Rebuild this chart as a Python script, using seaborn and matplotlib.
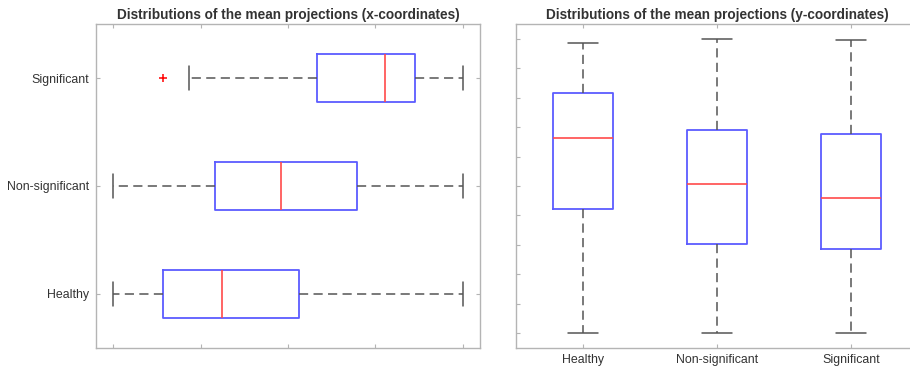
import numpy as np
import pandas as pd
import matplotlib
matplotlib.use("Agg")
import matplotlib.pyplot as plt
import seaborn as sns

# Groups and five-number summaries of the mean projections (normalised to [0, 1])
groups = ["Healthy", "Non-significant", "Significant"]

x_low = [0.0, 0.0, 0.216]
x_q1 = [0.141, 0.290, 0.582]
x_median = [0.312, 0.479, 0.777]
x_q3 = [0.531, 0.698, 0.863]
x_high = [1.0, 1.0, 1.0]
x_fliers = [[], [], [0.141]]

y_low = [0.0, 0.0, 0.0]
y_q1 = [0.422, 0.304, 0.286]
y_median = [0.663, 0.506, 0.460]
y_q3 = [0.815, 0.691, 0.675]
y_high = [0.987, 1.0, 0.996]
y_fliers = [[], [], []]

x_ticks = [0.0, 0.25, 0.5, 0.75, 1.0]
y_ticks = [0.0, 0.1, 0.2, 0.3, 0.4, 0.5, 0.6, 0.7, 0.8, 0.9, 1.0]


def summary_sample(lo, q1, med, q3, hi, fliers):
    """Nine values whose quartiles, whisker ends and fliers equal the summary."""
    first = fliers[0] if fliers else lo
    return [first, lo, q1, q1, med, med, q3, q3, hi]


def long_frame(lo, q1, med, q3, hi, fliers):
    rows = []
    for i, g in enumerate(groups):
        for v in summary_sample(lo[i], q1[i], med[i], q3[i], hi[i], fliers[i]):
            rows.append({"group": g, "value": v})
    return pd.DataFrame(rows)


df_x = long_frame(x_low, x_q1, x_median, x_q3, x_high, x_fliers)
df_y = long_frame(y_low, y_q1, y_median, y_q3, y_high, y_fliers)

sns.set_theme(style="white")
plt.rcParams["font.family"] = ["Liberation Sans", "DejaVu Sans"]

BOX = "#5c5cff"
MEDIAN = "#ff4a4a"
WHISK = "#555555"
SPINE = "#b4b4b4"
TEXT = "#333333"

box_kws = dict(
    width=0.45,
    fill=False,
    whis=1.5,
    linewidth=1.2,
    color=BOX,
    boxprops=dict(color=BOX, linewidth=1.3),
    medianprops=dict(color=MEDIAN, linewidth=1.2),
    whiskerprops=dict(color=WHISK, linewidth=1.1, linestyle=(0, (6, 3.5))),
    capprops=dict(color=WHISK, linewidth=1.1),
    flierprops=dict(marker="+", markeredgecolor="red", markerfacecolor="red",
                    markersize=6, markeredgewidth=1.1, linestyle="none"),
)

fig = plt.figure(figsize=(9.10, 3.72), dpi=100)
ax1 = fig.add_axes([96 / 910, 24.3 / 372, 384 / 910, 323.5 / 372])
ax2 = fig.add_axes([516 / 910, 24.3 / 372, 402 / 910, 323.5 / 372])

order_h = ["Significant", "Non-significant", "Healthy"]
sns.boxplot(data=df_x, x="value", y="group", order=order_h, orient="h", ax=ax1, **box_kws)
sns.boxplot(data=df_y, x="group", y="value", order=groups, orient="v", ax=ax2, **box_kws)

ax1.set_xlim(-0.05, 1.05)
ax1.set_ylim(2.5, -0.5)
ax1.set_xticks(x_ticks)
ax1.set_xticklabels([])

ax2.set_ylim(-0.05, 1.05)
ax2.set_xlim(-0.5, 2.5)
ax2.set_yticks(y_ticks)
ax2.set_yticklabels([])

ax1.set_title("Distributions of the mean projections (x-coordinates)",
              fontsize=9.8, fontweight="bold", color=TEXT, pad=4)
ax2.set_title("Distributions of the mean projections (y-coordinates)",
              fontsize=9.8, fontweight="bold", color=TEXT, pad=4)

for ax in (ax1, ax2):
    ax.set_xlabel("")
    ax.set_ylabel("")
    ax.grid(False)
    for s in ax.spines.values():
        s.set_visible(True)
        s.set_color(SPINE)
        s.set_linewidth(1.0)
    ax.tick_params(direction="in", length=3, width=0.8, color=SPINE,
                   top=True, right=True, bottom=True, left=True,
                   labelsize=8.9, labelcolor=TEXT, pad=4.8)

fig.savefig("out.png", dpi=100)
